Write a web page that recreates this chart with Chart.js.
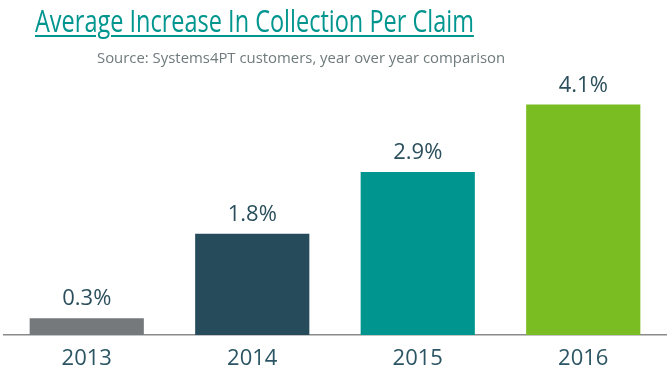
<!DOCTYPE html>
<html>
<head>
<meta charset="utf-8">
<script src="https://cdn.jsdelivr.net/npm/chart.js@4/dist/chart.umd.min.js"></script>
<style>
  html, body { margin: 0; padding: 0; background: #fff; }
  #wrap { position: relative; width: 667px; height: 372px; }
  #title {
    position: absolute; left: 35px; top: 0px; margin: 0;
    font-family: "Open Sans", sans-serif;
    font-weight: normal; font-size: 31px; line-height: 40px;
    color: #00968f; white-space: nowrap;
    text-decoration: underline; text-decoration-thickness: 2px; text-underline-offset: 3px;
    transform: scaleX(0.758); transform-origin: left top;
  }
  #sub {
    position: absolute; left: 97px; top: 47px; margin: 0;
    font-family: "Open Sans", sans-serif; font-size: 14.9px; line-height: 20px;
    color: #6f7a7d; white-space: nowrap;
  }
  canvas { position: absolute; left: 0; top: 0; }
</style>
</head>
<body>
<div id="wrap">
  <canvas id="c" width="667" height="372"></canvas>
  <div id="title">Average Increase In Collection Per Claim</div>
  <div id="sub">Source: Systems4PT customers, year over year comparison</div>
</div>
<script>
const years = ['2013', '2014', '2015', '2016'];
const increase = [0.3, 1.8, 2.9, 4.1];
const barColors = ['#76797c', '#264b5b', '#00968f', '#7abd22'];

const valueLabels = {
  id: 'valueLabels',
  afterDatasetsDraw(chart) {
    const ctx = chart.ctx;
    const meta = chart.getDatasetMeta(0);
    ctx.save();
    ctx.font = '22px "Open Sans", sans-serif';
    ctx.fillStyle = '#2b4f5c';
    ctx.textAlign = 'center';
    ctx.textBaseline = 'bottom';
    meta.data.forEach((bar, i) => {
      ctx.fillText(increase[i].toFixed(1) + '%', bar.x, bar.y - 8);
    });
    ctx.restore();
  }
};

new Chart(document.getElementById('c'), {
  type: 'bar',
  data: {
    labels: years,
    datasets: [{
      data: increase,
      backgroundColor: barColors,
      borderWidth: 0,
      barPercentage: 0.69,
      categoryPercentage: 1
    }]
  },
  options: {
    responsive: false,
    animation: false,
    layout: { padding: { top: 82, left: 4, right: 1, bottom: 0 } },
    plugins: {
      legend: { display: false },
      tooltip: { enabled: false }
    },
    scales: {
      x: {
        afterFit(scale) { scale.height = 37; },
        grid: { display: false, drawTicks: false, tickLength: 0 },
        border: { display: true, color: '#8a8a8a', width: 1.5 },
        ticks: {
          color: '#2b5563',
          font: { family: '"Open Sans", sans-serif', size: 22 },
          padding: 11
        }
      },
      y: {
        display: false,
        min: 0,
        max: 4.5
      }
    }
  },
  plugins: [valueLabels]
});
</script>
</body>
</html>
